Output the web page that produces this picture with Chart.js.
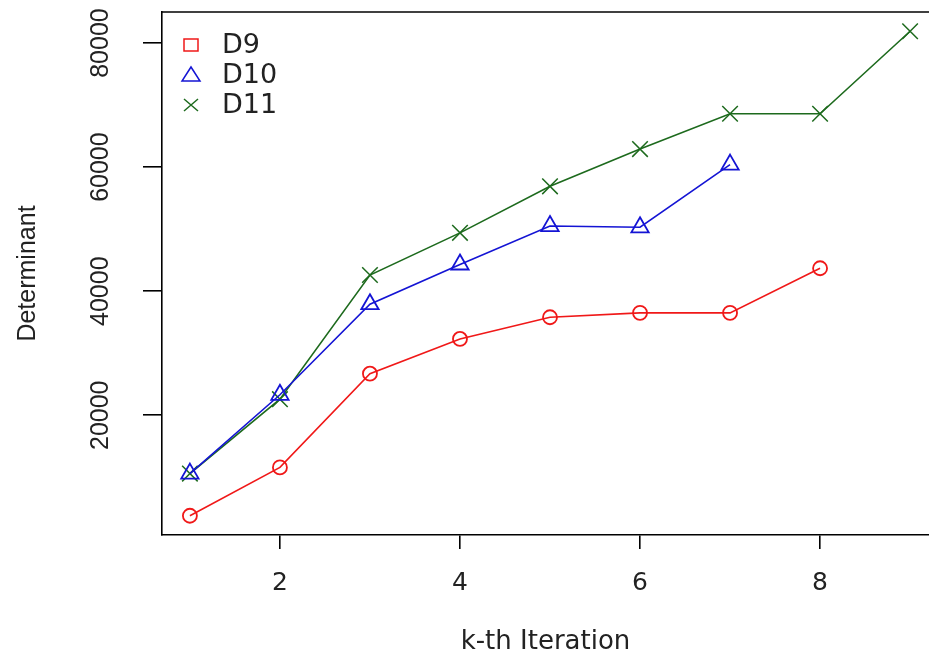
<!DOCTYPE html>
<html>
<head>
<meta charset="utf-8">
<script src="https://cdn.jsdelivr.net/npm/chart.js@4.4.1/dist/chart.umd.min.js"></script>
<style>
  body { margin: 0; background: #fff; }
</style>
</head>
<body>
<canvas id="det" width="929" height="660"></canvas>
<script>
var iterations = [1, 2, 3, 4, 5, 6, 7, 8, 9];
var d9 = [3800, 11600, 26700, 32300, 35800, 36500, 36500, 43700];
var d10 = [10600, 23300, 37900, 44300, 50500, 50300, 60400];
var d11 = [10600, 22600, 42600, 49400, 56900, 62900, 68600, 68600, 81900];
var xTicks = [2, 4, 6, 8];
var yTicks = [20000, 40000, 60000, 80000];

function points(values) {
  return values.map(function (v, i) { return { x: iterations[i], y: v }; });
}

var red = '#f01818', blue = '#1414d4', green = '#1d6a1d';
var axisFont = '"DejaVu Sans", sans-serif';
var rotFont = '"Liberation Sans", Arial, sans-serif';

// top edge of the box, rotated y labels and the legend (R look)
var rStyle = {
  id: 'rStyle',
  afterDraw: function (chart) {
    var ctx = chart.ctx, area = chart.chartArea, y = chart.scales.y;
    ctx.save();
    ctx.strokeStyle = '#000';
    ctx.lineWidth = 1.6;
    ctx.beginPath();
    ctx.moveTo(area.left, area.top);
    ctx.lineTo(area.right, area.top);
    ctx.stroke();

    ctx.fillStyle = '#222';
    ctx.font = '25px ' + rotFont;
    ctx.textAlign = 'center';
    ctx.textBaseline = 'middle';
    y.ticks.forEach(function (t) {
      ctx.save();
      ctx.translate(101, y.getPixelForValue(t.value));
      ctx.rotate(-Math.PI / 2);
      ctx.fillText(String(t.value), 0, 0);
      ctx.restore();
    });

    ctx.font = '27px ' + axisFont;
    ctx.textAlign = 'left';
    chart.data.datasets.forEach(function (ds, i) {
      var cx = area.left + 29, cy = area.top + 33 + i * 30;
      ctx.strokeStyle = ds.borderColor;
      ctx.lineWidth = 1.5;
      ctx.beginPath();
      if (i === 0) {
        ctx.rect(cx - 7, cy - 6, 14, 12);
      } else if (i === 1) {
        ctx.moveTo(cx, cy - 8);
        ctx.lineTo(cx + 9, cy + 6);
        ctx.lineTo(cx - 9, cy + 6);
        ctx.closePath();
      } else {
        ctx.moveTo(cx - 7, cy - 6);
        ctx.lineTo(cx + 7, cy + 6);
        ctx.moveTo(cx + 7, cy - 6);
        ctx.lineTo(cx - 7, cy + 6);
      }
      ctx.stroke();
      ctx.fillText(ds.label, area.left + 60, cy + 1);
    });
    ctx.restore();
  }
};

new Chart(document.getElementById('det'), {
  type: 'line',
  data: {
    datasets: [{
      label: 'D9',
      data: points(d9),
      borderColor: red,
      borderWidth: 1.6,
      pointStyle: 'circle',
      pointRadius: 7,
      pointBorderWidth: 1.8,
      pointBackgroundColor: 'rgba(0,0,0,0)'
    }, {
      label: 'D10',
      data: points(d10),
      borderColor: blue,
      borderWidth: 1.6,
      pointStyle: 'triangle',
      pointRadius: 10,
      pointBorderWidth: 1.8,
      pointBackgroundColor: 'rgba(0,0,0,0)'
    }, {
      label: 'D11',
      data: points(d11),
      borderColor: green,
      borderWidth: 1.6,
      pointStyle: 'crossRot',
      pointRadius: 11,
      pointBorderWidth: 1.5,
      pointBackgroundColor: 'rgba(0,0,0,0)'
    }]
  },
  options: {
    responsive: false,
    devicePixelRatio: 1,
    animation: false,
    layout: { autoPadding: false, padding: { top: 12, right: 0, left: 0, bottom: 0 } },
    elements: { line: { tension: 0 } },
    plugins: { legend: { display: false }, tooltip: { enabled: false } },
    scales: {
      x: {
        type: 'linear',
        min: 0.69,
        max: 9.21,
        afterBuildTicks: function (s) { s.ticks = xTicks.map(function (v) { return { value: v }; }); },
        afterFit: function (s) { s.height = 660 - 535; },
        grid: { drawOnChartArea: false, drawTicks: true, tickLength: 14, color: '#000', lineWidth: 1.6 },
        border: { display: true, color: '#000', width: 1.6 },
        ticks: { color: '#222', padding: 19, maxRotation: 0, font: { family: 'DejaVu Sans', size: 25 } },
        title: {
          display: true, text: 'k-th Iteration', color: '#222',
          font: { family: 'DejaVu Sans', size: 26 }, padding: { top: 0, bottom: 2 }
        }
      },
      y: {
        type: 'linear',
        min: 700,
        max: 85000,
        afterBuildTicks: function (s) { s.ticks = yTicks.map(function (v) { return { value: v }; }); },
        afterFit: function (s) { s.width = 162; },
        grid: { drawOnChartArea: false, drawTicks: true, tickLength: 19, color: '#000', lineWidth: 1.6 },
        border: { display: true, color: '#000', width: 1.6 },
        ticks: { display: false },
        title: {
          display: true, text: 'Determinant', color: '#222',
          font: { family: 'Liberation Sans', size: 25 }, padding: { top: 13, bottom: 0 }
        }
      }
    }
  },
  plugins: [rStyle]
});
</script>
</body>
</html>
